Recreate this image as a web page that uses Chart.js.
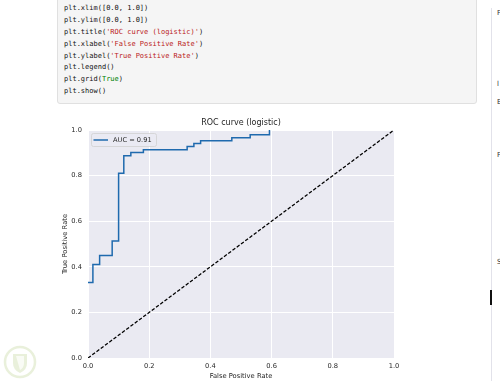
<!DOCTYPE html>
<html>
<head>
<meta charset="utf-8">
<script src="https://cdn.jsdelivr.net/npm/chart.js@4"></script>
<style>
  html, body { margin: 0; padding: 0; background: #fff; width: 500px; height: 381px; overflow: hidden; position: relative; }
  .cell { position: absolute; left: 57px; top: -10px; width: 420px; height: 114px; background: #f5f5f5; border: 1px solid #e0e0e0; border-radius: 3px; box-sizing: border-box; }
  pre.code { position: absolute; left: 64px; top: 3.2px; margin: 0; font-family: 'DejaVu Sans Mono', monospace; font-size: 7px; line-height: 11.85px; color: #111; }
  .s { color: #ba2121; }
  .k { color: #008000; }
  .side { position: absolute; left: 491px; top: 8px; width: 1px; height: 373px; background: #e2e2ea; }
  .mark { position: absolute; left: 497px; font-family: 'DejaVu Sans', sans-serif; font-size: 7px; color: #333; line-height: 7px; }
  .cursor { position: absolute; left: 490px; top: 290px; width: 2px; height: 15px; background: #111; }
  #chart { position: absolute; left: 0; top: 100px; }
  .logo { position: absolute; left: 3px; top: 345px; opacity: 0.3; }
</style>
</head>
<body>
<div class="cell"></div>
<pre class="code">plt.xlim([0.0, 1.0])
plt.ylim([0.0, 1.0])
plt.title(<span class="s">'ROC curve (logistic)'</span>)
plt.xlabel(<span class="s">'False Positive Rate'</span>)
plt.ylabel(<span class="s">'True Positive Rate'</span>)
plt.legend()
plt.grid(<span class="k">True</span>)
plt.show()</pre>
<div class="side"></div>
<div class="mark" style="top:10px">F</div>
<div class="mark" style="top:81px">l</div>
<div class="mark" style="top:99px">E</div>
<div class="mark" style="top:152px">F</div>
<div class="mark" style="top:259px">S</div>
<div class="cursor"></div>
<svg class="logo" width="36" height="36" viewBox="0 0 36 36">
  <circle cx="17" cy="17" r="15" fill="none" stroke="#b9d08a" stroke-width="2.5"/>
  <path d="M10 9 L24 9 L24 18 Q24 25 17 28 Q10 25 10 18 Z" fill="#b9d08a"/>
  <path d="M13 11 L21 11 L21 18 Q21 23 17 25 Z" fill="#eef3e0"/>
</svg>
<canvas id="chart" width="500" height="281"></canvas>
<script>
// ROC curve points
const fpr = [0, 0.016, 0.016, 0.038, 0.038, 0.079, 0.079, 0.1, 0.1, 0.117, 0.117, 0.14, 0.14, 0.181, 0.181, 0.324, 0.324, 0.346, 0.346, 0.368, 0.368, 0.47, 0.47, 0.53, 0.53, 0.593, 0.593];
const tpr = [0.331, 0.331, 0.41, 0.41, 0.45, 0.45, 0.513, 0.513, 0.81, 0.81, 0.887, 0.887, 0.901, 0.901, 0.913, 0.913, 0.928, 0.928, 0.941, 0.941, 0.953, 0.953, 0.966, 0.966, 0.979, 0.979, 1.0];
const diagX = [0, 1];
const diagY = [0, 1];
const rocLabel = 'AUC = 0.91';
const xTicks = [0, 0.2, 0.4, 0.6, 0.8, 1.0];
const yTicks = [0, 0.2, 0.4, 0.6, 0.8, 1.0];
const chartTitle = 'ROC curve (logistic)';
const xTitle = 'False Positive Rate';
const yTitle = 'True Positive Rate';

const FONT = "'DejaVu Sans', sans-serif";
const blue = '#1f6aae';

// grey plot background
const bgPlugin = {
  id: 'bg',
  beforeDraw(chart) {
    const { ctx, chartArea: a } = chart;
    ctx.save();
    ctx.fillStyle = '#eaeaf2';
    ctx.fillRect(a.left, a.top, a.right - a.left, a.bottom - a.top);
    ctx.restore();
  }
};

// title, axis titles and the legend box
const textPlugin = {
  id: 'texts',
  afterDraw(chart) {
    const { ctx, chartArea: a } = chart;
    const cx = (a.left + a.right) / 2;
    ctx.save();
    ctx.fillStyle = '#262626';
    ctx.textAlign = 'center';
    ctx.textBaseline = 'middle';
    ctx.font = '8px ' + FONT;
    ctx.fillText(chartTitle, cx, a.top - 7.5);
    ctx.font = '6.75px ' + FONT;
    ctx.fillText(xTitle, cx, a.bottom + 18);
    ctx.translate(65, (a.top + a.bottom) / 2);
    ctx.rotate(-Math.PI / 2);
    ctx.fillText(yTitle, 0, 0);
    ctx.restore();

    // legend
    const lx = a.left + 3, ly = a.top + 3, lw = 65, lh = 13;
    ctx.save();
    ctx.fillStyle = 'rgba(234,234,242,0.8)';
    ctx.strokeStyle = '#d0d0d0';
    ctx.lineWidth = 0.8;
    ctx.beginPath();
    ctx.roundRect(lx + 0.5, ly + 0.5, lw, lh, 2);
    ctx.fill();
    ctx.stroke();
    ctx.strokeStyle = blue;
    ctx.lineWidth = 1.5;
    ctx.beginPath();
    ctx.moveTo(lx + 2.5, ly + 7);
    ctx.lineTo(lx + 17, ly + 7);
    ctx.stroke();
    ctx.fillStyle = '#262626';
    ctx.font = '6.65px ' + FONT;
    ctx.textBaseline = 'middle';
    ctx.fillText(chart.data.datasets[0].label, lx + 22, ly + 7.2);
    ctx.restore();
  }
};

const ctx = document.getElementById('chart').getContext('2d');
new Chart(ctx, {
  type: 'scatter',
  data: {
    datasets: [{
      label: rocLabel,
      data: fpr.map((x, i) => ({ x: x, y: tpr[i] })),
      showLine: true,
      borderColor: blue,
      borderWidth: 1.5,
      pointRadius: 0,
      clip: 0
    }, {
      label: 'diag',
      data: diagX.map((x, i) => ({ x: x, y: diagY[i] })),
      showLine: true,
      borderColor: '#000',
      borderWidth: 1.3,
      borderDash: [3.5, 1.8],
      pointRadius: 0,
      clip: 0
    }]
  },
  options: {
    responsive: false,
    animation: false,
    devicePixelRatio: 1,
    layout: { padding: { top: 30, right: 106, left: 0, bottom: 0 } },
    plugins: { legend: { display: false }, title: { display: false }, tooltip: { enabled: false } },
    scales: {
      x: {
        type: 'linear', min: 0, max: 1,
        afterBuildTicks: s => { s.ticks = xTicks.map(v => ({ value: v })); },
        afterFit: s => { s.height = 23; },
        grid: { color: '#ffffff', lineWidth: 1, drawTicks: false },
        border: { display: false },
        ticks: { padding: 4, color: '#262626', font: { family: FONT, size: 6.7 }, maxRotation: 0, callback: v => v.toFixed(1) }
      },
      y: {
        type: 'linear', min: 0, max: 1,
        afterBuildTicks: s => { s.ticks = yTicks.map(v => ({ value: v })); },
        afterFit: s => { s.width = 88; },
        grid: { color: '#ffffff', lineWidth: 1, drawTicks: false },
        border: { display: false },
        ticks: { padding: 6, color: '#262626', font: { family: FONT, size: 6.7 }, callback: v => v.toFixed(1) }
      }
    }
  },
  plugins: [bgPlugin, textPlugin]
});
</script>
</body>
</html>
